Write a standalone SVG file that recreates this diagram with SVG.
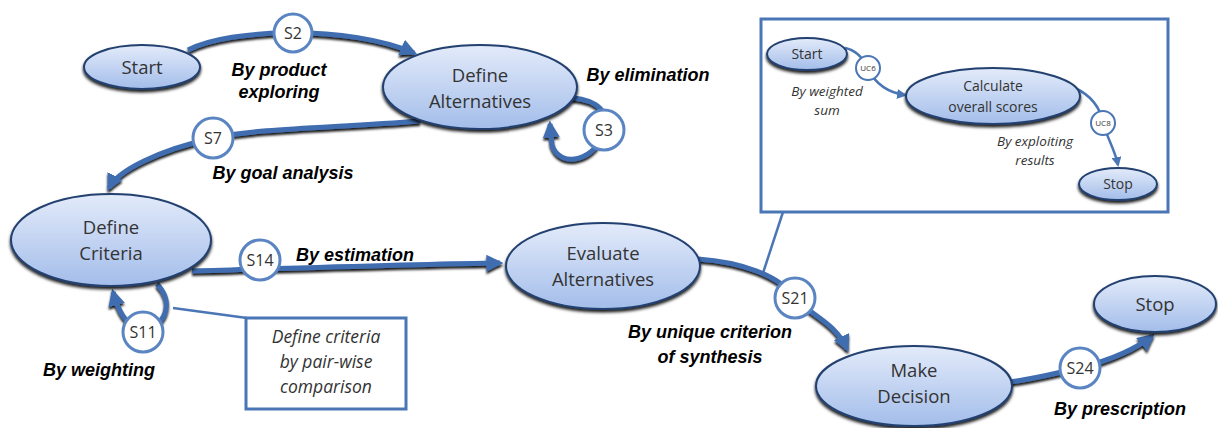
<svg xmlns="http://www.w3.org/2000/svg" width="1218" height="428" viewBox="0 0 1218 428">
<style>
.node ellipse{fill:url(#g);stroke:#23406f;stroke-width:2;filter:url(#sh)}
.nt{font-family:"Open Sans","Liberation Sans",sans-serif;font-size:18.5px;fill:#333;text-anchor:middle}
.it{font-family:"Open Sans","Liberation Sans",sans-serif;font-size:14px;fill:#333;text-anchor:middle}
.st circle{fill:#fff;stroke:#5b85c2;stroke-width:3}
.st text{font-family:"Open Sans","Liberation Sans",sans-serif;font-size:16px;fill:#333;text-anchor:middle}
.ist circle{fill:#fff;stroke:#4a76b6;stroke-width:2}
.ist text{font-family:"Open Sans","Liberation Sans",sans-serif;font-size:8px;fill:#333;text-anchor:middle}
.lbl{font-family:"Liberation Sans",Arial,sans-serif;font-size:18px;font-weight:bold;font-style:italic;fill:#000;text-anchor:middle}
.ilbl{font-family:"Open Sans","Liberation Sans",sans-serif;font-size:13.5px;font-style:italic;fill:#333;text-anchor:middle}
.c{fill:none;stroke:#406db0;stroke-width:5}
.ic{fill:none;stroke:#4a76b6;stroke-width:2.5}
.box{fill:#fff;stroke:#4a76b6;stroke-width:3}
.cl{fill:none;stroke:#4a76b6;stroke-width:2.5}
.ct{font-family:"Open Sans","Liberation Sans",sans-serif;font-size:17.5px;font-style:italic;fill:#333;text-anchor:middle}
</style>
<defs>
<linearGradient id="g" x1="0" y1="0" x2="0" y2="1">
<stop offset="0" stop-color="#e3ebfa"/>
<stop offset="1" stop-color="#a3bdea"/>
</linearGradient>
<filter id="sh" x="-10%" y="-20%" width="120%" height="150%">
<feDropShadow dx="0" dy="2.5" stdDeviation="1.5" flood-color="#000" flood-opacity="0.9"/>
</filter>
<filter id="csh" x="-10%" y="-30%" width="120%" height="160%">
<feDropShadow dx="0" dy="2.5" stdDeviation="1.2" flood-color="#000" flood-opacity="0.9"/>
</filter>
<marker id="ah" viewBox="0 0 10 10" refX="8" refY="5" markerWidth="3.4" markerHeight="3.4" orient="auto" markerUnits="strokeWidth">
<path d="M0,0 L10,5 L0,10 z" fill="#406db0"/>
</marker>
<marker id="iah" viewBox="0 0 10 10" refX="8" refY="5" markerWidth="4" markerHeight="4" orient="auto" markerUnits="strokeWidth">
<path d="M0,0 L10,5 L0,10 z" fill="#4a76b6"/>
</marker>
</defs>

<!-- inset box -->
<g id="inset">
<rect class="box" x="761" y="19" width="407" height="193"/>
<path class="cl" d="M783,212 L763,273"/>
<g id="connectors-inset">
<path class="ic" d="M845,48 C856,50 863,58 868,68 C875,85 890,93 905,95" marker-end="url(#iah)"/>
<path class="ic" d="M1075,88 C1090,95 1100,106 1103,123 C1108,140 1115,150 1118,165" marker-end="url(#iah)"/>
</g>
<g id="i-start" class="node"><ellipse cx="807" cy="54" rx="40" ry="16"/><text class="it" x="807" y="59">Start</text></g>
<g id="i-calc" class="node"><ellipse cx="993" cy="96" rx="87" ry="28"/><text class="it" x="993" y="91">Calculate</text><text class="it" x="993" y="112">overall scores</text></g>
<g id="i-stop" class="node"><ellipse cx="1118" cy="184" rx="39" ry="16"/><text class="it" x="1118" y="189">Stop</text></g>
<g id="uc6" class="ist"><circle cx="868" cy="68" r="12"/><text x="868" y="71">UC6</text></g>
<g id="uc8" class="ist"><circle cx="1103" cy="123" r="12"/><text x="1103" y="126">UC8</text></g>
<text class="ilbl" x="827" y="96">By weighted</text>
<text class="ilbl" x="827" y="115">sum</text>
<text class="ilbl" x="1035" y="146">By exploiting</text>
<text class="ilbl" x="1035" y="165">results</text>
</g>

<!-- callout box -->
<g id="callout">
<path class="cl" d="M173,308 L247,318"/>
<rect class="box" x="246" y="318" width="160" height="91"/>
<text class="ct" x="326" y="343">Define criteria</text>
<text class="ct" x="326" y="368">by pair-wise</text>
<text class="ct" x="326" y="393">comparison</text>
</g>

<g id="connectors" filter="url(#csh)">
<path class="c" d="M188,50 C230,28 350,25 414,53" marker-end="url(#ah)"/>
<path class="c" d="M420,121 C330,128 260,128 213,138 C160,150 118,170 109,188" marker-end="url(#ah)"/>
<path class="c" d="M572,98 C600,100 610,115 604,130 C598,160 560,170 552,145 L550,124" marker-end="url(#ah)"/>
<path class="c" d="M192,271 C300,268 420,264 500,263" marker-end="url(#ah)"/>
<path class="c" d="M157,284 C172,300 170,322 143,332 C125,325 118,310 113,292" marker-end="url(#ah)"/>
<path class="c" d="M698,259 C740,262 780,275 795,298 C810,315 835,322 847,349" marker-end="url(#ah)"/>
<path class="c" d="M1010,382 C1040,378 1060,372 1080,368 C1110,360 1135,350 1152,336" marker-end="url(#ah)"/>
</g>

<g id="n-start" class="node"><ellipse cx="142" cy="67" rx="58" ry="22"/><text class="nt" x="142" y="74">Start</text></g>
<g id="n-defalt" class="node"><ellipse cx="480" cy="87" rx="97" ry="42"/><text class="nt" x="480" y="82">Define</text><text class="nt" x="480" y="108">Alternatives</text></g>
<g id="n-defcrit" class="node"><ellipse cx="111" cy="240" rx="100" ry="46"/><text class="nt" x="111" y="234">Define</text><text class="nt" x="111" y="260">Criteria</text></g>
<g id="n-eval" class="node"><ellipse cx="603" cy="266" rx="97" ry="43"/><text class="nt" x="603" y="260">Evaluate</text><text class="nt" x="603" y="286">Alternatives</text></g>
<g id="n-make" class="node"><ellipse cx="914" cy="386" rx="98" ry="40"/><text class="nt" x="914" y="377">Make</text><text class="nt" x="914" y="403">Decision</text></g>
<g id="n-stop" class="node"><ellipse cx="1155" cy="304" rx="61" ry="28"/><text class="nt" x="1155" y="311">Stop</text></g>

<g id="s2" class="st"><circle cx="293" cy="33" r="19"/><text x="293" y="39">S2</text></g>
<g id="s3" class="st"><circle cx="604" cy="130" r="20"/><text x="604" y="136">S3</text></g>
<g id="s7" class="st"><circle cx="213" cy="138" r="20"/><text x="213" y="144">S7</text></g>
<g id="s11" class="st"><circle cx="143" cy="332" r="20"/><text x="143" y="338">S11</text></g>
<g id="s14" class="st"><circle cx="260" cy="260" r="20"/><text x="260" y="266">S14</text></g>
<g id="s21" class="st"><circle cx="795" cy="298" r="20"/><text x="795" y="304">S21</text></g>
<g id="s24" class="st"><circle cx="1080" cy="368" r="20"/><text x="1080" y="374">S24</text></g>

<g id="labels">
<text class="lbl" x="279" y="76">By product</text>
<text class="lbl" x="279" y="98">exploring</text>
<text class="lbl" x="648" y="81">By elimination</text>
<text class="lbl" x="283" y="179">By goal analysis</text>
<text class="lbl" x="355" y="261">By estimation</text>
<text class="lbl" x="99" y="376">By weighting</text>
<text class="lbl" x="710" y="338">By unique criterion</text>
<text class="lbl" x="710" y="363">of synthesis</text>
<text class="lbl" x="1120" y="415">By prescription</text>
</g>
</svg>
